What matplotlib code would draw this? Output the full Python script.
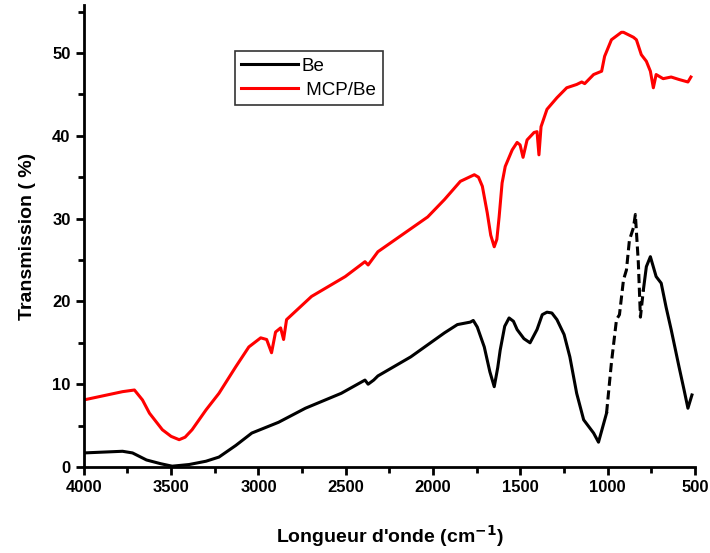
import matplotlib.pyplot as plt
import numpy as np
from matplotlib.ticker import MultipleLocator

# FTIR spectra
be_x = [4000, 3778, 3721, 3641, 3560, 3494, 3397, 3300, 3226, 3130, 3038, 2885, 2731,
        2526, 2390, 2372, 2340, 2316, 2128, 1935, 1861, 1787, 1770, 1747, 1707, 1675, 1650,
        1630, 1616, 1590, 1565, 1540, 1519, 1480, 1445, 1405, 1375, 1348, 1320, 1291, 1250,
        1217, 1178, 1138, 1081, 1053, 1007,
        979, 950, 933, 910, 893, 876, 853, 842, 825, 813, 796, 779, 756, 723, 694,
        666, 637, 592, 563, 541, 518]
be_y = [1.7, 1.9, 1.7, 0.85, 0.4, 0.1, 0.3, 0.7, 1.2, 2.6, 4.1, 5.4, 7.1,
        8.9, 10.5, 10.0, 10.5, 11.0, 13.3, 16.2, 17.2, 17.5, 17.7, 16.9, 14.5, 11.5, 9.7,
        12.0, 14.1, 17.0, 18.0, 17.6, 16.6, 15.5, 15.0, 16.6, 18.4, 18.7, 18.6, 17.8, 16.0,
        13.3, 8.9, 5.7, 4.1, 3.0, 6.5,
        12.6, 17.8, 18.4, 22.6, 23.8, 27.4, 28.9, 30.5, 24.7, 18.1, 21.4, 24.2, 25.4, 23.0, 22.2,
        19.3, 16.6, 12.1, 9.3, 7.1, 8.7]

mcp_x = [4000, 3778, 3710, 3664, 3624, 3550, 3500, 3454, 3420, 3380, 3300, 3226, 3130, 3055,
         2987, 2953, 2925, 2902, 2873, 2856, 2839, 2696, 2503, 2390, 2372, 2316, 2031, 1935,
         1844, 1764, 1740, 1718, 1690, 1670, 1650, 1635, 1622, 1605, 1587, 1547, 1519, 1502,
         1485, 1462, 1422, 1405, 1394, 1382, 1348, 1291, 1235, 1178, 1149, 1132, 1081, 1035,
         1018, 979, 922, 910, 853, 836, 808, 779, 756, 739, 723, 683, 637, 592, 541, 524]
mcp_y = [8.1, 9.1, 9.3, 8.1, 6.5, 4.5, 3.7, 3.3, 3.6, 4.5, 6.9, 8.9, 12.1, 14.5,
         15.6, 15.4, 13.8, 16.3, 16.8, 15.4, 17.8, 20.6, 23.0, 24.8, 24.4, 26.0, 30.2, 32.3,
         34.5, 35.3, 35.0, 33.9, 30.7, 28.0, 26.6, 27.5, 30.2, 34.3, 36.3, 38.3, 39.2, 38.9,
         37.4, 39.5, 40.4, 40.5, 37.7, 41.1, 43.2, 44.6, 45.8, 46.2, 46.5, 46.3, 47.4, 47.8,
         49.6, 51.6, 52.5, 52.5, 51.9, 51.6, 49.8, 49.0, 47.8, 45.8, 47.4, 46.9, 47.1, 46.8,
         46.5, 47.1]

plt.rcParams['font.family'] = ['Liberation Sans', 'DejaVu Sans']

fig = plt.figure(figsize=(7.1, 5.53), dpi=100)
ax = fig.add_axes([0.118, 0.1555, 0.861, 0.8355])

bx = np.array(be_x)
by = np.array(be_y)
solid1 = bx >= 1007
dash = (bx <= 1007) & (bx >= 796)
solid2 = bx <= 796
ax.plot(bx[solid1], by[solid1], color='black', lw=2.2, label='Be')
ax.plot(bx[dash], by[dash], color='black', lw=2.2, ls=(0, (3, 1.5)))
ax.plot(bx[solid2], by[solid2], color='black', lw=2.2)
ax.plot(mcp_x, mcp_y, color='red', lw=2.2, label=' MCP/Be')

ax.set_xlim(4000, 500)
ax.set_ylim(0, 55.8)
ax.xaxis.set_major_locator(MultipleLocator(500))
ax.xaxis.set_minor_locator(MultipleLocator(250))
ax.yaxis.set_major_locator(MultipleLocator(10))
ax.yaxis.set_minor_locator(MultipleLocator(5))

for s in ['top', 'right']:
    ax.spines[s].set_visible(False)
for s in ['left', 'bottom']:
    ax.spines[s].set_linewidth(2)
ax.tick_params(which='major', direction='out', length=6, width=2, labelsize=12)
ax.tick_params(which='minor', direction='out', length=4, width=2)
for lab in ax.get_xticklabels() + ax.get_yticklabels():
    lab.set_fontweight('bold')

ax.set_xlabel("Longueur d'onde (cm$^{\\mathbf{-1}}$)", fontsize=14, fontweight='bold', labelpad=20)
ax.set_ylabel("Transmission ( %)", fontsize=14, fontweight='bold', labelpad=12)

leg = ax.legend(loc='upper left', bbox_to_anchor=(0.247, 0.9), fontsize=13.5, frameon=True,
                fancybox=False, edgecolor='black', handlelength=3.0, borderpad=0.35,
                labelspacing=0.35, handletextpad=0.2, borderaxespad=0)
leg.get_frame().set_linewidth(1.2)

plt.savefig('out.png', dpi=100)
